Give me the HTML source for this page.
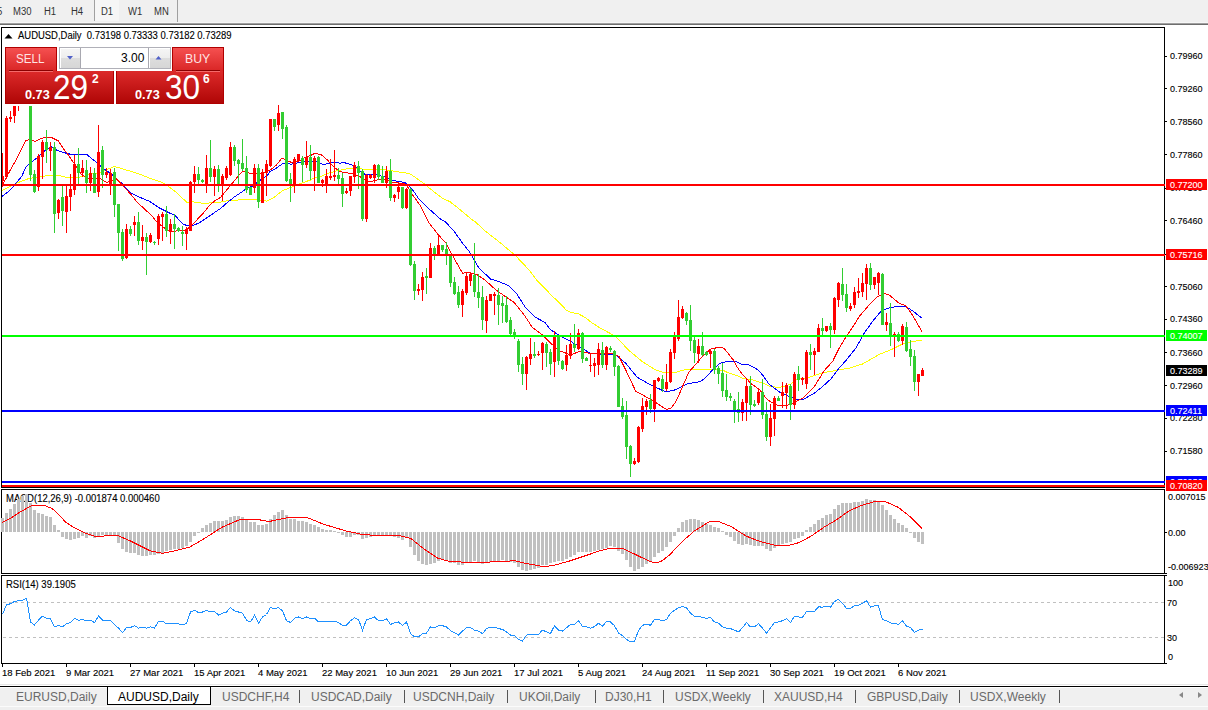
<!DOCTYPE html>
<html><head><meta charset="utf-8"><title>AUDUSD,Daily</title><style>
*{margin:0;padding:0;box-sizing:border-box}
html,body{width:1208px;height:710px;overflow:hidden;background:#fff;font-family:"Liberation Sans", sans-serif;}
.a{position:absolute;white-space:nowrap;line-height:1}
.tb{font-size:10px;color:#333;transform:scaleX(0.95);transform-origin:0 0}
.pl{font-size:9px;color:#000;-webkit-text-stroke:0.12px currentColor}
.tab{font-size:12px;color:#6a6a6a}
.px{font-size:9.5px;color:#000;-webkit-text-stroke:0.12px currentColor;transform:scaleX(0.95);transform-origin:0 0}
</style></head>
<body>
<div class="a" style="left:0;top:0;width:1208px;height:22px;background:#f0f0f0"></div>
<div class="a" style="left:0;top:22px;width:1208px;height:1px;background:#f7f7f7"></div>
<div class="a" style="left:0;top:23px;width:1208px;height:1px;background:#a0a0a0"></div>
<div class="a" style="left:0;top:24px;width:1208px;height:1px;background:#6e6e6e"></div>
<div class="a" style="left:95px;top:0;width:24px;height:21px;background:#f6f6f6"></div>
<div class="a" style="left:94px;top:0;width:1px;height:21px;background:#a0a0a0"></div>
<div class="a" style="left:177px;top:0;width:1px;height:22px;background:#a0a0a0"></div>
<div class="a tb" style="left:-3px;top:6.5px">5</div>
<div class="a tb" style="left:13px;top:6.5px">M30</div>
<div class="a tb" style="left:44px;top:6.5px">H1</div>
<div class="a tb" style="left:71px;top:6.5px">H4</div>
<div class="a tb" style="left:100.5px;top:6.5px">D1</div>
<div class="a tb" style="left:128px;top:6.5px">W1</div>
<div class="a tb" style="left:154px;top:6.5px">MN</div>
<div class="a pl" style="left:6px;top:494px;font-size:10px;transform:scaleX(0.95);transform-origin:0 0">MACD(12,26,9) -0.001874 0.000460</div>
<div class="a pl" style="left:6px;top:580px;font-size:10px;transform:scaleX(0.95);transform-origin:0 0">RSI(14) 39.1905</div>
<svg class="a" style="left:0;top:0" width="1208" height="710" shape-rendering="crispEdges">
<rect x="1.5" y="27.5" width="1163" height="460" fill="none" stroke="#000" stroke-width="1"/>
<rect x="1.5" y="489.5" width="1163" height="84" fill="none" stroke="#000" stroke-width="1"/>
<rect x="1.5" y="575.5" width="1163" height="88" fill="none" stroke="#000" stroke-width="1"/>
<rect x="1165" y="56" width="2" height="1" fill="#000"/>
<rect x="1165" y="88" width="2" height="1" fill="#000"/>
<rect x="1165" y="121" width="2" height="1" fill="#000"/>
<rect x="1165" y="154" width="2" height="1" fill="#000"/>
<rect x="1165" y="188" width="2" height="1" fill="#000"/>
<rect x="1165" y="220" width="2" height="1" fill="#000"/>
<rect x="1165" y="254" width="2" height="1" fill="#000"/>
<rect x="1165" y="286" width="2" height="1" fill="#000"/>
<rect x="1165" y="319" width="2" height="1" fill="#000"/>
<rect x="1165" y="352" width="2" height="1" fill="#000"/>
<rect x="1165" y="385" width="2" height="1" fill="#000"/>
<rect x="1165" y="418" width="2" height="1" fill="#000"/>
<rect x="1165" y="451" width="2" height="1" fill="#000"/>
<rect x="1165" y="532" width="2" height="1" fill="#000"/>
<rect x="1165" y="573" width="2" height="1" fill="#000"/>
<rect x="1165" y="575" width="2" height="1" fill="#000"/>
<rect x="1165" y="663" width="2" height="1" fill="#000"/>
<rect x="2" y="664" width="1" height="3" fill="#000"/>
<rect x="66" y="664" width="1" height="3" fill="#000"/>
<rect x="130" y="664" width="1" height="3" fill="#000"/>
<rect x="194" y="664" width="1" height="3" fill="#000"/>
<rect x="258" y="664" width="1" height="3" fill="#000"/>
<rect x="322" y="664" width="1" height="3" fill="#000"/>
<rect x="386" y="664" width="1" height="3" fill="#000"/>
<rect x="450" y="664" width="1" height="3" fill="#000"/>
<rect x="514" y="664" width="1" height="3" fill="#000"/>
<rect x="578" y="664" width="1" height="3" fill="#000"/>
<rect x="642" y="664" width="1" height="3" fill="#000"/>
<rect x="706" y="664" width="1" height="3" fill="#000"/>
<rect x="770" y="664" width="1" height="3" fill="#000"/>
<rect x="834" y="664" width="1" height="3" fill="#000"/>
<rect x="898" y="664" width="1" height="3" fill="#000"/>
<line x1="2" y1="602.5" x2="1164" y2="602.5" stroke="#c0c0c0" stroke-width="1" stroke-dasharray="3,3" stroke-dashoffset="5"/>
<line x1="2" y1="637.5" x2="1164" y2="637.5" stroke="#c0c0c0" stroke-width="1" stroke-dasharray="3,3" stroke-dashoffset="5"/>
<path d="M1 518h3V532h-3ZM5 513h3V532h-3ZM9 509h3V532h-3ZM13 504h3V532h-3ZM17 499h3V532h-3ZM21 496h3V532h-3ZM25 494h3V532h-3ZM29 503h3V532h-3ZM33 510h3V532h-3ZM37 513h3V532h-3ZM41 514h3V532h-3ZM45 516h3V532h-3ZM49 517h3V532h-3ZM53 525h3V532h-3ZM57 530h3V532h-3ZM61 532h3V537h-3ZM65 532h3V539h-3ZM69 532h3V540h-3ZM73 532h3V539h-3ZM77 532h3V538h-3ZM81 532h3V536h-3ZM85 532h3V538h-3ZM89 532h3V536h-3ZM93 532h3V538h-3ZM97 532h3V536h-3ZM101 532h3V535h-3ZM105 532h3V535h-3ZM109 532h3V535h-3ZM113 532h3V535h-3ZM117 532h3V543h-3ZM121 532h3V549h-3ZM125 532h3V552h-3ZM129 532h3V553h-3ZM133 532h3V553h-3ZM137 532h3V555h-3ZM141 532h3V556h-3ZM145 532h3V556h-3ZM149 532h3V555h-3ZM153 532h3V555h-3ZM157 532h3V554h-3ZM161 532h3V553h-3ZM165 532h3V551h-3ZM169 532h3V550h-3ZM173 532h3V549h-3ZM177 532h3V549h-3ZM181 532h3V548h-3ZM185 532h3V546h-3ZM189 532h3V542h-3ZM193 532h3V536h-3ZM197 532h3v1h-3ZM201 528h3V532h-3ZM205 525h3V532h-3ZM209 523h3V532h-3ZM213 521h3V532h-3ZM217 521h3V532h-3ZM221 521h3V532h-3ZM225 520h3V532h-3ZM229 517h3V532h-3ZM233 516h3V532h-3ZM237 516h3V532h-3ZM241 517h3V532h-3ZM245 520h3V532h-3ZM249 522h3V532h-3ZM253 522h3V532h-3ZM257 525h3V532h-3ZM261 525h3V532h-3ZM265 524h3V532h-3ZM269 519h3V532h-3ZM273 515h3V532h-3ZM277 512h3V532h-3ZM281 510h3V532h-3ZM285 515h3V532h-3ZM289 519h3V532h-3ZM293 519h3V532h-3ZM297 521h3V532h-3ZM301 521h3V532h-3ZM305 522h3V532h-3ZM309 524h3V532h-3ZM313 525h3V532h-3ZM317 527h3V532h-3ZM321 529h3V532h-3ZM325 530h3V532h-3ZM329 530h3V532h-3ZM333 531h3V532h-3ZM337 532h3v1h-3ZM341 532h3V535h-3ZM345 532h3V537h-3ZM349 532h3V537h-3ZM353 532h3V535h-3ZM357 532h3V535h-3ZM361 532h3V539h-3ZM365 532h3V538h-3ZM369 532h3V537h-3ZM373 532h3V536h-3ZM377 532h3V535h-3ZM381 532h3V535h-3ZM385 532h3V535h-3ZM389 532h3V536h-3ZM393 532h3V537h-3ZM397 532h3V538h-3ZM401 532h3V540h-3ZM405 532h3V538h-3ZM409 532h3V547h-3ZM413 532h3V555h-3ZM417 532h3V561h-3ZM421 532h3V564h-3ZM425 532h3V565h-3ZM429 532h3V564h-3ZM433 532h3V563h-3ZM437 532h3V561h-3ZM441 532h3V560h-3ZM445 532h3V561h-3ZM449 532h3V563h-3ZM453 532h3V563h-3ZM457 532h3V565h-3ZM461 532h3V565h-3ZM465 532h3V563h-3ZM469 532h3V562h-3ZM473 532h3V561h-3ZM477 532h3V562h-3ZM481 532h3V564h-3ZM485 532h3V563h-3ZM489 532h3V562h-3ZM493 532h3V561h-3ZM497 532h3V561h-3ZM501 532h3V560h-3ZM505 532h3V561h-3ZM509 532h3V562h-3ZM513 532h3V563h-3ZM517 532h3V567h-3ZM521 532h3V570h-3ZM525 532h3V571h-3ZM529 532h3V570h-3ZM533 532h3V569h-3ZM537 532h3V568h-3ZM541 532h3V565h-3ZM545 532h3V565h-3ZM549 532h3V563h-3ZM553 532h3V562h-3ZM557 532h3V561h-3ZM561 532h3V561h-3ZM565 532h3V559h-3ZM569 532h3V557h-3ZM573 532h3V555h-3ZM577 532h3V552h-3ZM581 532h3V552h-3ZM585 532h3V552h-3ZM589 532h3V552h-3ZM593 532h3V551h-3ZM597 532h3V550h-3ZM601 532h3V549h-3ZM605 532h3V548h-3ZM609 532h3V546h-3ZM613 532h3V547h-3ZM617 532h3V551h-3ZM621 532h3V554h-3ZM625 532h3V560h-3ZM629 532h3V567h-3ZM633 532h3V571h-3ZM637 532h3V569h-3ZM641 532h3V567h-3ZM645 532h3V564h-3ZM649 532h3V562h-3ZM653 532h3V557h-3ZM657 532h3V553h-3ZM661 532h3V551h-3ZM665 532h3V547h-3ZM669 532h3V542h-3ZM673 532h3V536h-3ZM677 528h3V532h-3ZM681 522h3V532h-3ZM685 520h3V532h-3ZM689 519h3V532h-3ZM693 519h3V532h-3ZM697 520h3V532h-3ZM701 522h3V532h-3ZM705 524h3V532h-3ZM709 525h3V532h-3ZM713 527h3V532h-3ZM717 528h3V532h-3ZM721 531h3V532h-3ZM725 532h3V535h-3ZM729 532h3V537h-3ZM733 532h3V541h-3ZM737 532h3V544h-3ZM741 532h3V545h-3ZM745 532h3V544h-3ZM749 532h3V545h-3ZM753 532h3V546h-3ZM757 532h3V546h-3ZM761 532h3V546h-3ZM765 532h3V549h-3ZM769 532h3V551h-3ZM773 532h3V548h-3ZM777 532h3V546h-3ZM781 532h3V544h-3ZM785 532h3V543h-3ZM789 532h3V542h-3ZM793 532h3V539h-3ZM797 532h3V538h-3ZM801 532h3V536h-3ZM805 530h3V532h-3ZM809 527h3V532h-3ZM813 524h3V532h-3ZM817 520h3V532h-3ZM821 518h3V532h-3ZM825 515h3V532h-3ZM829 514h3V532h-3ZM833 509h3V532h-3ZM837 505h3V532h-3ZM841 503h3V532h-3ZM845 503h3V532h-3ZM849 503h3V532h-3ZM853 502h3V532h-3ZM857 502h3V532h-3ZM861 501h3V532h-3ZM865 499h3V532h-3ZM869 500h3V532h-3ZM873 500h3V532h-3ZM877 501h3V532h-3ZM881 505h3V532h-3ZM885 510h3V532h-3ZM889 515h3V532h-3ZM893 519h3V532h-3ZM897 523h3V532h-3ZM901 525h3V532h-3ZM905 528h3V532h-3ZM909 532h3v1h-3ZM913 532h3V538h-3ZM917 532h3V542h-3ZM921 532h3V544h-3Z" fill="#c0c0c0"/>
<polyline points="1.9,522.5 9.9,518.6 18.6,513.0 26.1,508.6 32.3,505.5 44.7,505.5 52.2,508.6 58.4,514.2 65.8,522.3 74.5,527.9 84.4,532.8 94.4,536.2 103.1,536.2 108.0,535.3 118.0,535.7 122.9,537.8 130.4,540.9 140.3,545.9 150.0,550.8 162.4,553.3 174.8,550.8 189.7,547.1 204.6,538.4 222.0,527.2 239.4,519.8 259.3,519.8 269.2,521.5 286.6,517.8 306.4,517.3 323.8,524.3 346.2,531.0 363.6,534.7 378.5,535.4 398.3,535.4 410.7,538.4 423.2,548.4 438.0,558.3 450.0,561.5 460.9,562.0 480.8,562.8 495.7,561.5 515.5,560.8 525.5,563.3 542.8,566.5 552.8,565.7 570.2,560.8 585.1,555.8 600.0,550.8 609.9,548.4 622.3,548.4 634.7,554.1 644.7,559.0 650.0,561.5 654.6,562.5 658.5,562.2 662.0,560.8 669.5,555.1 676.9,547.1 684.4,539.7 694.3,531.0 709.2,521.8 719.2,521.8 731.6,526.8 746.0,536.0 751.9,538.4 761.9,542.1 774.3,545.1 786.7,545.9 799.1,542.6 811.5,535.9 824.0,527.2 836.4,519.8 848.8,511.1 861.2,505.4 876.1,501.2 886.0,501.9 898.4,507.4 910.9,517.3 922.0,528.5" fill="none" stroke="#ff0000" stroke-width="1" shape-rendering="crispEdges"/>
<polyline points="2.5,614.5 6.5,604.6 10.5,603.8 14.5,601.3 18.5,600.8 22.5,600.1 26.5,598.3 30.5,621.9 34.5,624.9 38.5,620.2 42.5,616.2 46.5,618.2 50.5,618.7 54.5,626.9 58.5,625.2 62.5,626.9 66.5,623.7 70.5,622.7 74.5,618.2 78.5,620.2 82.5,619.5 86.5,620.7 90.5,620.2 94.5,622.7 98.5,616.2 102.5,620.2 106.5,620.2 110.5,620.2 114.5,624.4 118.5,628.1 122.5,632.6 126.5,627.7 130.5,627.4 134.5,625.7 138.5,628.1 142.5,627.7 146.5,628.1 150.5,626.9 154.5,628.1 158.5,621.4 162.5,621.2 166.5,623.9 170.5,623.2 174.5,623.9 178.5,623.9 182.5,624.4 186.5,623.7 190.5,612.0 194.5,610.3 198.5,612.5 202.5,612.0 206.5,610.3 210.5,612.0 214.5,611.5 218.5,615.0 222.5,613.2 226.5,612.0 230.5,607.5 234.5,610.8 238.5,612.0 242.5,613.2 246.5,620.2 250.5,621.9 254.5,615.2 258.5,623.2 262.5,617.0 266.5,614.5 270.5,607.5 274.5,608.8 278.5,607.5 282.5,610.8 286.5,620.7 290.5,622.4 294.5,618.2 298.5,617.0 302.5,618.7 306.5,617.0 310.5,618.7 314.5,618.2 318.5,621.9 322.5,621.9 326.5,621.2 330.5,621.2 334.5,621.2 338.5,622.7 342.5,625.2 346.5,625.2 350.5,620.7 354.5,617.7 358.5,619.5 362.5,630.1 366.5,619.5 370.5,618.7 374.5,617.0 378.5,620.7 382.5,620.7 386.5,618.7 390.5,624.4 394.5,622.7 398.5,621.9 402.5,625.7 406.5,621.9 410.5,633.6 414.5,636.8 418.5,636.8 422.5,633.6 426.5,633.1 430.5,626.9 434.5,627.7 438.5,625.7 442.5,625.7 446.5,626.9 450.5,630.6 454.5,632.6 458.5,635.1 462.5,631.1 466.5,627.7 470.5,627.7 474.5,630.1 478.5,631.1 482.5,633.6 486.5,628.6 490.5,627.2 494.5,627.2 498.5,628.6 502.5,629.4 506.5,631.9 510.5,635.1 514.5,635.6 518.5,639.3 522.5,641.1 526.5,635.1 530.5,634.4 534.5,634.4 538.5,634.4 542.5,630.1 546.5,631.9 550.5,633.6 554.5,625.7 558.5,630.1 562.5,631.1 566.5,627.7 570.5,624.4 574.5,624.4 578.5,620.7 582.5,626.4 586.5,626.9 590.5,628.1 594.5,626.6 598.5,623.2 602.5,626.2 606.5,621.4 610.5,621.9 614.5,625.7 618.5,633.1 622.5,635.6 626.5,639.3 630.5,641.8 634.5,641.1 638.5,630.6 642.5,625.2 646.5,624.4 650.5,625.2 654.5,619.5 658.5,619.5 662.5,620.7 666.5,619.5 670.5,613.2 674.5,610.3 678.5,607.8 682.5,606.3 686.5,607.8 690.5,613.2 694.5,616.2 698.5,616.2 702.5,617.7 706.5,618.2 710.5,617.7 714.5,621.9 718.5,623.2 722.5,626.9 726.5,628.1 730.5,628.6 734.5,630.1 738.5,631.9 742.5,627.7 746.5,622.7 750.5,626.9 754.5,626.9 758.5,623.7 762.5,628.1 766.5,633.1 770.5,627.7 774.5,622.7 778.5,621.9 782.5,620.7 786.5,618.7 790.5,622.7 794.5,616.2 798.5,617.0 802.5,617.2 806.5,611.6 810.5,611.3 814.5,611.3 818.5,606.8 822.5,607.2 826.5,606.3 830.5,607.1 834.5,601.5 838.5,599.4 842.5,603.3 846.5,608.3 850.5,608.3 854.5,605.8 858.5,605.4 862.5,603.3 866.5,600.6 870.5,607.1 874.5,605.8 878.5,605.9 882.5,619.7 886.5,620.5 890.5,623.0 894.5,623.2 898.5,624.3 902.5,621.0 906.5,626.0 910.5,627.7 914.5,632.3 918.5,630.3 922.5,629.0" fill="none" stroke="#1e90ff" stroke-width="1" shape-rendering="crispEdges"/>
<polyline points="2.0,190.5 5.0,189.0 16.6,183.2 24.9,179.9 29.9,178.2 38.2,177.4 46.6,175.7 51.5,175.3 59.9,175.7 66.5,177.4 73.2,177.8 83.1,176.6 91.4,174.1 99.8,173.2 106.4,169.8 114.7,166.5 123.0,169.0 131.3,171.5 141.3,174.8 149.6,178.1 159.6,181.5 166.3,184.8 176.2,192.4 186.7,202.2 192.4,201.7 200.6,203.0 208.7,203.0 217.9,202.6 229.5,200.3 241.1,199.9 257.3,199.9 266.6,201.1 273.6,197.6 282.8,190.6 295.8,185.5 300.0,183.6 310.8,179.9 314.1,177.8 321.6,176.2 328.3,173.3 336.6,170.8 343.2,169.5 349.9,168.3 358.2,168.7 368.2,169.5 383.1,169.5 391.4,170.8 396.0,171.5 408.3,173.3 412.5,175.4 424.1,183.7 435.7,193.3 443.2,198.7 449.9,201.6 458.2,208.2 470.7,218.6 475.8,222.3 485.8,231.5 500.7,243.1 515.7,255.8 529.0,269.9 536.6,280.0 544.1,287.5 551.5,295.4 558.2,301.6 566.5,310.3 570.7,312.4 579.0,314.1 585.6,317.8 591.4,322.4 599.8,327.8 604.1,330.0 615.7,336.6 629.0,350.5 642.3,361.6 655.6,369.9 665.6,373.0 675.5,372.4 685.5,369.5 712.5,369.6 723.3,370.4 727.4,372.5 737.4,375.8 743.2,378.7 751.5,379.5 763.2,383.3 769.8,386.6 779.0,387.4 784.0,386.6 790.6,384.1 793.9,381.6 796.4,379.5 809.3,377.4 820.9,373.2 834.2,370.7 849.2,368.2 862.5,364.0 879.1,354.5 892.4,349.1 904.1,343.2 912.4,341.5 922.0,340.2" fill="none" stroke="#ffff00" stroke-width="1" shape-rendering="crispEdges"/>
<polyline points="2.0,196.5 8.0,192.0 12.5,187.4 16.6,182.4 21.6,176.6 25.8,167.4 29.1,164.1 33.3,160.8 36.6,158.3 40.7,154.1 45.7,150.0 51.5,147.0 56.5,150.0 63.2,152.4 68.2,153.7 73.2,154.9 87.3,154.9 91.4,158.3 96.4,162.4 103.1,168.2 114.7,176.5 121.4,183.1 131.3,193.1 139.7,197.3 149.6,201.4 159.6,208.1 169.6,213.1 174.6,215.0 182.9,224.1 187.9,225.8 194.5,224.9 200.0,222.4 211.0,215.0 220.3,208.6 228.4,201.7 234.2,197.0 241.1,192.4 248.1,187.7 252.7,186.0 258.5,181.4 264.8,177.0 267.8,175.0 269.8,171.6 274.8,169.1 279.8,165.7 283.1,163.2 288.1,163.2 290.6,164.5 293.1,163.7 300.0,162.5 308.3,161.4 316.6,161.8 320.0,163.7 324.9,164.5 328.3,163.3 333.3,162.3 336.6,162.4 339.9,163.3 343.2,162.4 346.6,163.3 351.5,164.9 356.5,167.4 359.9,170.8 364.8,174.1 370.7,174.9 374.8,174.1 379.8,175.7 386.5,177.4 391.4,179.9 396.0,181.0 404.2,182.3 406.6,183.7 409.1,186.2 413.3,190.8 418.3,198.2 427.4,207.4 439.9,218.6 445.9,222.3 454.2,231.5 462.5,243.1 469.2,251.5 479.1,268.3 490.8,279.1 500.0,282.1 508.3,285.4 516.6,293.7 524.9,306.6 534.9,317.0 544.9,322.4 549.9,329.0 554.0,332.0 558.2,334.9 564.8,338.6 570.6,341.4 582.2,348.1 587.4,351.6 591.4,353.5 599.1,354.1 615.7,354.9 625.7,363.2 637.3,377.4 650.6,384.8 665.8,392.0 675.5,389.8 687.4,383.9 700.0,381.6 705.0,378.3 713.3,369.1 720.0,363.3 728.3,361.2 734.9,361.2 741.6,364.2 748.2,364.6 753.2,367.1 758.2,370.0 763.2,375.8 769.0,384.1 773.2,387.4 780.6,392.8 787.3,395.7 792.3,397.4 796.4,399.1 802.6,399.8 814.3,393.2 822.6,386.5 830.9,379.0 837.6,369.9 845.9,360.5 855.9,348.1 864.2,333.1 872.5,321.5 880.8,311.5 887.4,308.2 899.1,306.2 905.7,306.5 912.4,310.7 922.0,318.2" fill="none" stroke="#0000ff" stroke-width="1" shape-rendering="crispEdges"/>
<polyline points="2.0,186.5 5.0,180.0 10.8,169.1 16.6,159.1 21.6,149.1 25.8,140.8 29.9,139.1 34.9,141.6 41.6,138.3 46.6,137.1 51.5,137.5 58.2,140.8 63.2,148.3 68.2,154.9 74.0,163.2 78.1,169.8 81.5,174.8 88.1,178.1 94.8,179.0 99.8,178.1 106.4,182.3 109.7,181.5 116.4,179.0 121.4,184.0 129.7,193.1 138.0,203.1 146.3,210.6 153.0,217.2 156.3,221.6 164.6,228.2 169.6,231.6 178.7,230.7 186.2,229.9 191.2,225.8 200.0,216.6 201.7,215.0 205.0,211.0 209.8,205.1 214.5,201.0 220.3,197.6 225.0,192.0 229.5,186.6 238.8,175.5 243.2,171.1 246.6,171.6 249.9,173.6 253.2,173.2 259.9,173.2 266.5,172.0 271.5,169.1 276.5,164.9 281.5,158.7 283.1,158.3 285.6,159.9 290.6,162.0 294.8,162.0 300.0,160.6 305.0,157.5 310.0,155.8 315.0,153.3 321.6,155.0 327.4,160.0 333.3,166.6 339.9,171.6 346.6,172.8 353.2,174.1 359.9,176.6 366.5,180.7 369.8,181.6 374.8,180.7 379.8,179.1 386.5,179.1 391.4,182.4 396.0,182.8 406.0,184.1 412.6,194.9 420.9,206.5 429.3,223.2 437.6,234.0 445.9,243.1 450.9,252.5 462.5,273.2 469.2,272.4 477.5,274.9 485.8,280.7 495.8,289.9 504.1,295.7 514.0,302.3 524.0,314.8 532.3,327.3 542.3,334.8 550.6,343.1 558.9,350.6 570.8,354.9 579.1,351.6 589.1,353.2 599.1,354.1 612.4,353.2 619.0,356.6 625.7,369.9 635.9,391.6 644.2,395.8 656.5,402.9 663.2,407.5 666.5,409.5 670.7,408.3 674.8,403.3 678.6,395.8 682.5,386.6 689.1,371.7 692.4,368.1 702.4,356.5 710.7,349.0 719.0,347.3 724.0,348.2 733.3,360.0 737.4,367.5 741.6,373.3 746.6,378.7 751.5,384.1 756.5,387.4 759.9,389.9 764.8,396.6 769.0,400.7 774.8,404.1 777.3,405.3 783.1,405.3 789.8,404.9 795.6,401.6 802.6,398.2 814.3,386.5 824.3,370.5 832.6,361.5 839.2,348.1 845.9,337.0 854.2,324.8 859.2,316.5 869.2,304.9 877.5,296.6 884.1,293.6 889.1,294.9 899.1,303.2 905.7,305.7 912.4,314.9 919.0,326.5 922.0,331.5" fill="none" stroke="#ff0000" stroke-width="1" shape-rendering="crispEdges"/>
<path d="M26 86h1V105h-1ZM25 90h3V101h-3ZM30 95h1V181h-1ZM29 100h3V175h-3ZM34 170h1V193h-1ZM33 174h3V192h-3ZM46 130h1V163h-1ZM45 142h3V150h-3ZM54 142h1V233h-1ZM53 147h3V214h-3ZM62 186h1V226h-1ZM61 197h3V211h-3ZM78 148h1V185h-1ZM77 164h3V173h-3ZM86 160h1V193h-1ZM85 170h3V183h-3ZM94 168h1V193h-1ZM93 173h3V193h-3ZM102 146h1V188h-1ZM101 150h3V175h-3ZM114 168h1V217h-1ZM113 172h3V205h-3ZM118 204h1V251h-1ZM117 204h3V233h-3ZM122 229h1V261h-1ZM121 232h3V259h-3ZM130 226h1V236h-1ZM129 229h3V234h-3ZM138 212h1V245h-1ZM137 222h3V241h-3ZM146 233h1V275h-1ZM145 237h3V242h-3ZM154 241h1V245h-1ZM153 242h3V243h-3ZM166 206h1V237h-1ZM165 214h3V231h-3ZM174 214h1V249h-1ZM173 224h3V229h-3ZM178 227h1V232h-1ZM177 228h3V231h-3ZM182 226h1V246h-1ZM181 232h3V234h-3ZM198 167h1V185h-1ZM197 174h3V180h-3ZM202 179h1V183h-1ZM201 180h3V182h-3ZM210 140h1V182h-1ZM209 168h3V177h-3ZM218 165h1V192h-1ZM217 169h3V185h-3ZM234 145h1V166h-1ZM233 147h3V161h-3ZM238 159h1V185h-1ZM237 160h3V164h-3ZM242 139h1V171h-1ZM241 163h3V169h-3ZM246 156h1V193h-1ZM245 168h3V190h-3ZM250 187h1V195h-1ZM249 187h3V195h-3ZM258 164h1V208h-1ZM257 168h3V202h-3ZM274 119h1V131h-1ZM273 119h3V127h-3ZM282 112h1V139h-1ZM281 112h3V129h-3ZM286 125h1V182h-1ZM285 127h3V181h-3ZM290 173h1V202h-1ZM289 179h3V186h-3ZM302 156h1V182h-1ZM301 158h3V165h-3ZM310 145h1V180h-1ZM309 157h3V171h-3ZM318 156h1V183h-1ZM317 157h3V183h-3ZM338 168h1V185h-1ZM337 175h3V179h-3ZM342 173h1V207h-1ZM341 178h3V194h-3ZM358 161h1V189h-1ZM357 166h3V173h-3ZM362 169h1V221h-1ZM361 171h3V219h-3ZM378 164h1V180h-1ZM377 165h3V177h-3ZM382 166h1V183h-1ZM381 176h3V183h-3ZM390 159h1V201h-1ZM389 171h3V198h-3ZM402 187h1V209h-1ZM401 187h3V208h-3ZM410 188h1V266h-1ZM409 189h3V265h-3ZM414 261h1V300h-1ZM413 264h3V291h-3ZM426 268h1V294h-1ZM425 276h3V278h-3ZM434 246h1V260h-1ZM433 248h3V255h-3ZM442 245h1V252h-1ZM441 245h3V250h-3ZM446 242h1V265h-1ZM445 249h3V255h-3ZM450 254h1V287h-1ZM449 255h3V283h-3ZM454 277h1V295h-1ZM453 282h3V294h-3ZM458 286h1V308h-1ZM457 292h3V305h-3ZM474 243h1V297h-1ZM473 275h3V292h-3ZM478 274h1V308h-1ZM477 292h3V298h-3ZM482 286h1V330h-1ZM481 297h3V320h-3ZM498 288h1V325h-1ZM497 295h3V305h-3ZM502 296h1V323h-1ZM501 303h3V306h-3ZM506 296h1V323h-1ZM505 305h3V322h-3ZM510 317h1V337h-1ZM509 320h3V334h-3ZM514 329h1V339h-1ZM513 332h3V337h-3ZM518 339h1V372h-1ZM517 341h3V365h-3ZM522 357h1V385h-1ZM521 364h3V374h-3ZM534 342h1V358h-1ZM533 354h3V356h-3ZM546 342h1V367h-1ZM545 344h3V353h-3ZM550 349h1V375h-1ZM549 352h3V364h-3ZM558 335h1V365h-1ZM557 336h3V361h-3ZM562 360h1V370h-1ZM561 361h3V369h-3ZM574 324h1V352h-1ZM573 344h3V348h-3ZM582 332h1V363h-1ZM581 333h3V359h-3ZM586 357h1V361h-1ZM585 358h3V361h-3ZM602 342h1V368h-1ZM601 350h3V365h-3ZM610 346h1V352h-1ZM609 348h3V350h-3ZM614 350h1V376h-1ZM613 351h3V367h-3ZM618 365h1V407h-1ZM617 366h3V407h-3ZM622 398h1V419h-1ZM621 406h3V417h-3ZM626 401h1V459h-1ZM625 415h3V447h-3ZM630 445h1V477h-1ZM629 446h3V464h-3ZM650 394h1V413h-1ZM649 400h3V409h-3ZM662 375h1V392h-1ZM661 379h3V389h-3ZM686 312h1V325h-1ZM685 313h3V321h-3ZM690 305h1V351h-1ZM689 320h3V341h-3ZM694 335h1V363h-1ZM693 340h3V353h-3ZM702 332h1V356h-1ZM701 346h3V355h-3ZM706 351h1V356h-1ZM705 352h3V355h-3ZM714 349h1V374h-1ZM713 351h3V370h-3ZM718 366h1V384h-1ZM717 368h3V374h-3ZM722 363h1V397h-1ZM721 373h3V391h-3ZM726 374h1V401h-1ZM725 390h3V397h-3ZM730 393h1V401h-1ZM729 396h3V398h-3ZM734 399h1V423h-1ZM733 401h3V411h-3ZM738 392h1V422h-1ZM737 409h3V413h-3ZM750 376h1V415h-1ZM749 386h3V405h-3ZM754 400h1V407h-1ZM753 404h3V406h-3ZM762 379h1V419h-1ZM761 392h3V415h-3ZM766 402h1V441h-1ZM765 414h3V437h-3ZM778 396h1V401h-1ZM777 398h3V401h-3ZM790 384h1V420h-1ZM789 386h3V405h-3ZM798 366h1V391h-1ZM797 374h3V380h-3ZM810 344h1V370h-1ZM809 352h3V355h-3ZM822 318h1V336h-1ZM821 328h3V331h-3ZM830 323h1V348h-1ZM829 326h3V330h-3ZM842 268h1V301h-1ZM841 284h3V295h-3ZM846 284h1V312h-1ZM845 294h3V308h-3ZM870 263h1V290h-1ZM869 268h3V285h-3ZM882 273h1V325h-1ZM881 274h3V325h-3ZM890 303h1V346h-1ZM889 323h3V337h-3ZM898 332h1V342h-1ZM897 334h3V341h-3ZM906 322h1V352h-1ZM905 327h3V351h-3ZM910 340h1V366h-1ZM909 349h3V357h-3ZM914 350h1V391h-1ZM913 356h3V382h-3Z" fill="#32cd32"/>
<path d="M2 153h1V185h-1ZM2 176h2V181h-2ZM6 116h1V179h-1ZM5 118h3V177h-3ZM10 111h1V122h-1ZM9 117h3V119h-3ZM14 98h1V123h-1ZM13 100h3V116h-3ZM18 90h1V111h-1ZM17 95h3V103h-3ZM22 85h1V103h-1ZM21 88h3V101h-3ZM38 154h1V191h-1ZM37 156h3V187h-3ZM42 140h1V179h-1ZM41 142h3V157h-3ZM50 142h1V171h-1ZM49 147h3V151h-3ZM58 199h1V219h-1ZM57 200h3V213h-3ZM66 186h1V233h-1ZM65 196h3V212h-3ZM70 174h1V211h-1ZM69 189h3V197h-3ZM74 155h1V195h-1ZM73 164h3V190h-3ZM82 160h1V177h-1ZM81 168h3V173h-3ZM90 167h1V191h-1ZM89 173h3V183h-3ZM98 125h1V197h-1ZM97 152h3V192h-3ZM106 168h1V178h-1ZM105 172h3V175h-3ZM110 169h1V195h-1ZM109 173h3V185h-3ZM126 224h1V259h-1ZM125 229h3V258h-3ZM134 216h1V236h-1ZM133 222h3V225h-3ZM142 225h1V250h-1ZM141 237h3V241h-3ZM150 233h1V243h-1ZM149 235h3V242h-3ZM158 214h1V245h-1ZM157 216h3V239h-3ZM162 212h1V241h-1ZM161 214h3V217h-3ZM170 219h1V244h-1ZM169 224h3V231h-3ZM186 227h1V250h-1ZM185 229h3V234h-3ZM190 181h1V231h-1ZM189 182h3V231h-3ZM194 166h1V193h-1ZM193 174h3V182h-3ZM206 155h1V193h-1ZM205 168h3V185h-3ZM214 166h1V196h-1ZM213 169h3V177h-3ZM222 174h1V201h-1ZM221 176h3V185h-3ZM226 166h1V180h-1ZM225 168h3V178h-3ZM230 142h1V176h-1ZM229 147h3V175h-3ZM254 164h1V193h-1ZM253 168h3V188h-3ZM262 169h1V203h-1ZM261 172h3V203h-3ZM266 160h1V196h-1ZM265 164h3V173h-3ZM270 119h1V167h-1ZM269 119h3V166h-3ZM278 105h1V131h-1ZM277 113h3V125h-3ZM294 157h1V193h-1ZM293 159h3V186h-3ZM298 154h1V162h-1ZM297 154h3V161h-3ZM306 141h1V168h-1ZM305 157h3V165h-3ZM314 156h1V191h-1ZM313 158h3V171h-3ZM322 179h1V187h-1ZM321 180h3V183h-3ZM326 169h1V193h-1ZM325 176h3V185h-3ZM330 159h1V180h-1ZM329 176h3V178h-3ZM334 150h1V181h-1ZM333 175h3V177h-3ZM346 188h1V194h-1ZM345 191h3V193h-3ZM350 176h1V196h-1ZM349 176h3V191h-3ZM354 162h1V183h-1ZM353 165h3V177h-3ZM366 174h1V222h-1ZM365 175h3V219h-3ZM370 174h1V179h-1ZM369 175h3V178h-3ZM374 164h1V183h-1ZM373 165h3V178h-3ZM386 166h1V188h-1ZM385 171h3V183h-3ZM394 194h1V202h-1ZM393 195h3V198h-3ZM398 182h1V199h-1ZM397 187h3V192h-3ZM406 188h1V209h-1ZM405 189h3V208h-3ZM418 284h1V295h-1ZM417 289h3V291h-3ZM422 272h1V301h-1ZM421 277h3V290h-3ZM430 243h1V278h-1ZM429 248h3V278h-3ZM438 235h1V255h-1ZM437 245h3V255h-3ZM462 289h1V317h-1ZM461 291h3V305h-3ZM466 273h1V295h-1ZM465 276h3V293h-3ZM470 272h1V286h-1ZM469 274h3V281h-3ZM486 296h1V333h-1ZM485 300h3V321h-3ZM490 294h1V301h-1ZM489 294h3V301h-3ZM494 292h1V315h-1ZM493 294h3V296h-3ZM526 356h1V390h-1ZM525 357h3V374h-3ZM530 338h1V365h-1ZM529 354h3V359h-3ZM538 351h1V356h-1ZM537 354h3V355h-3ZM542 342h1V370h-1ZM541 343h3V353h-3ZM554 331h1V377h-1ZM553 337h3V362h-3ZM566 345h1V371h-1ZM565 355h3V365h-3ZM570 333h1V359h-1ZM569 344h3V356h-3ZM578 329h1V350h-1ZM577 333h3V349h-3ZM590 353h1V372h-1ZM589 365h3V366h-3ZM594 358h1V377h-1ZM593 363h3V366h-3ZM598 343h1V375h-1ZM597 349h3V365h-3ZM606 346h1V370h-1ZM605 347h3V365h-3ZM634 458h1V465h-1ZM633 461h3V464h-3ZM638 426h1V463h-1ZM637 427h3V462h-3ZM642 398h1V432h-1ZM641 406h3V429h-3ZM646 399h1V415h-1ZM645 401h3V407h-3ZM654 380h1V422h-1ZM653 380h3V409h-3ZM658 377h1V382h-1ZM657 378h3V381h-3ZM666 364h1V391h-1ZM665 382h3V389h-3ZM670 349h1V383h-1ZM669 352h3V382h-3ZM674 332h1V359h-1ZM673 336h3V353h-3ZM678 300h1V341h-1ZM677 317h3V339h-3ZM682 306h1V319h-1ZM681 309h3V318h-3ZM698 339h1V363h-1ZM697 346h3V354h-3ZM710 349h1V368h-1ZM709 351h3V354h-3ZM742 399h1V421h-1ZM741 402h3V413h-3ZM746 378h1V421h-1ZM745 386h3V403h-3ZM758 388h1V405h-1ZM757 392h3V403h-3ZM770 404h1V446h-1ZM769 418h3V437h-3ZM774 396h1V436h-1ZM773 398h3V419h-3ZM782 382h1V408h-1ZM781 392h3V396h-3ZM786 383h1V409h-1ZM785 385h3V393h-3ZM794 372h1V409h-1ZM793 374h3V405h-3ZM802 377h1V385h-1ZM801 378h3V380h-3ZM806 350h1V389h-1ZM805 352h3V384h-3ZM814 348h1V375h-1ZM813 351h3V355h-3ZM818 324h1V352h-1ZM817 328h3V352h-3ZM826 326h1V332h-1ZM825 326h3V331h-3ZM834 297h1V334h-1ZM833 298h3V330h-3ZM838 282h1V307h-1ZM837 283h3V300h-3ZM850 303h1V311h-1ZM849 306h3V309h-3ZM854 287h1V308h-1ZM853 292h3V305h-3ZM858 278h1V298h-1ZM857 291h3V293h-3ZM862 273h1V297h-1ZM861 283h3V292h-3ZM866 264h1V300h-1ZM865 268h3V284h-3ZM874 277h1V289h-1ZM873 277h3V285h-3ZM878 272h1V295h-1ZM877 273h3V283h-3ZM886 313h1V331h-1ZM885 322h3V325h-3ZM894 332h1V357h-1ZM893 334h3V337h-3ZM902 324h1V345h-1ZM901 326h3V341h-3ZM918 374h1V396h-1ZM917 374h3V382h-3ZM922 368h1V376h-1ZM921 370h3V376h-3Z" fill="#ff0000"/>
<rect x="2" y="184" width="1163" height="2" fill="#ff0000"/>
<rect x="2" y="254" width="1163" height="2" fill="#ff0000"/>
<rect x="2" y="335" width="1163" height="2" fill="#00ff00"/>
<rect x="2" y="410" width="1163" height="2" fill="#0000ff"/>
<rect x="2" y="481" width="1163" height="2" fill="#0000ff"/>
<rect x="2" y="485" width="1163" height="2" fill="#ff0000"/>
</svg>
<div class="a px" style="left:1170px;top:50.8px">0.79960</div>
<div class="a px" style="left:1170px;top:83.5px">0.79260</div>
<div class="a px" style="left:1170px;top:116.6px">0.78560</div>
<div class="a px" style="left:1170px;top:149.7px">0.77860</div>
<div class="a px" style="left:1170px;top:182.8px">0.77160</div>
<div class="a px" style="left:1170px;top:215.6px">0.76460</div>
<div class="a px" style="left:1170px;top:248.7px">0.75760</div>
<div class="a px" style="left:1170px;top:281.7px">0.75060</div>
<div class="a px" style="left:1170px;top:314.4px">0.74360</div>
<div class="a px" style="left:1170px;top:347.5px">0.73660</div>
<div class="a px" style="left:1170px;top:380.5px">0.72960</div>
<div class="a px" style="left:1170px;top:413.4px">0.72280</div>
<div class="a px" style="left:1170px;top:446.3px">0.71580</div>
<div class="a" style="left:1166px;top:179px;width:41px;height:11px;background:#ff0000"></div><div class="a px" style="left:1170px;top:179.7px;color:#fff">0.77200</div>
<div class="a" style="left:1166px;top:249px;width:41px;height:11px;background:#ff0000"></div><div class="a px" style="left:1170px;top:249.7px;color:#fff">0.75716</div>
<div class="a" style="left:1166px;top:330px;width:41px;height:11px;background:#00ff00"></div><div class="a px" style="left:1170px;top:330.7px;color:#fff">0.74007</div>
<div class="a" style="left:1166px;top:365px;width:41px;height:11px;background:#000000"></div><div class="a px" style="left:1170px;top:365.7px;color:#fff">0.73289</div>
<div class="a" style="left:1166px;top:405px;width:41px;height:11px;background:#0000ff"></div><div class="a px" style="left:1170px;top:405.7px;color:#fff">0.72411</div>
<div class="a" style="left:1166px;top:476px;width:41px;height:11px;background:#0000ff"></div><div class="a px" style="left:1170px;top:476.7px;color:#fff">0.70936</div>
<div class="a" style="left:1166px;top:480px;width:41px;height:11px;background:#ff0000"></div><div class="a px" style="left:1170px;top:480.7px;color:#fff">0.70820</div>
<div class="a px" style="left:1168px;top:491.7px">0.007015</div>
<div class="a px" style="left:1168px;top:527.7px">0.00</div>
<div class="a px" style="left:1168px;top:562.0px">-0.006923</div>
<div class="a px" style="left:1168px;top:577.7px">100</div>
<div class="a px" style="left:1167px;top:597.7px">70</div>
<div class="a px" style="left:1167px;top:632.7px">30</div>
<div class="a px" style="left:1168px;top:651.7px">0</div>
<svg class="a" style="left:0;top:0" width="20" height="45"><polygon points="4.5,38.5 12.5,38.5 8.5,34" fill="#000"/></svg>
<div class="a pl" style="left:18px;top:30.5px;font-size:10px;transform:scaleX(0.946);transform-origin:0 0">AUDUSD,Daily&nbsp; 0.73198 0.73333 0.73182 0.73289</div>
<div class="a pl" style="left:2px;top:667.5px;font-size:9.5px">18 Feb 2021</div>
<div class="a pl" style="left:66px;top:667.5px;font-size:9.5px">9 Mar 2021</div>
<div class="a pl" style="left:130px;top:667.5px;font-size:9.5px">27 Mar 2021</div>
<div class="a pl" style="left:194px;top:667.5px;font-size:9.5px">15 Apr 2021</div>
<div class="a pl" style="left:258px;top:667.5px;font-size:9.5px">4 May 2021</div>
<div class="a pl" style="left:322px;top:667.5px;font-size:9.5px">22 May 2021</div>
<div class="a pl" style="left:386px;top:667.5px;font-size:9.5px">10 Jun 2021</div>
<div class="a pl" style="left:450px;top:667.5px;font-size:9.5px">29 Jun 2021</div>
<div class="a pl" style="left:514px;top:667.5px;font-size:9.5px">17 Jul 2021</div>
<div class="a pl" style="left:578px;top:667.5px;font-size:9.5px">5 Aug 2021</div>
<div class="a pl" style="left:642px;top:667.5px;font-size:9.5px">24 Aug 2021</div>
<div class="a pl" style="left:706px;top:667.5px;font-size:9.5px">11 Sep 2021</div>
<div class="a pl" style="left:770px;top:667.5px;font-size:9.5px">30 Sep 2021</div>
<div class="a pl" style="left:834px;top:667.5px;font-size:9.5px">19 Oct 2021</div>
<div class="a pl" style="left:898px;top:667.5px;font-size:9.5px">6 Nov 2021</div>
<div class="a" style="left:0;top:684px;width:1208px;height:1px;background:#e6e6e6"></div>
<div class="a" style="left:0;top:686px;width:1208px;height:1px;background:#000"></div>
<div class="a" style="left:0;top:688px;width:1208px;height:18px;background:#f0f0f0"></div>
<div class="a" style="left:0;top:706px;width:1208px;height:1px;background:#fbfbfb"></div>
<div class="a" style="left:0;top:707px;width:1208px;height:3px;background:#efefef"></div>
<div class="a" style="left:107px;top:686px;width:104px;height:19px;background:#fff;border:1px solid #000;border-top:1px solid #000"></div>
<div class="a tab" style="left:16px;top:691px">EURUSD,Daily</div>
<div class="a tab" style="left:222px;top:691px">USDCHF,H4</div>
<div class="a tab" style="left:311px;top:691px">USDCAD,Daily</div>
<div class="a tab" style="left:413px;top:691px">USDCNH,Daily</div>
<div class="a tab" style="left:519px;top:691px">UKOil,Daily</div>
<div class="a tab" style="left:605px;top:691px">DJ30,H1</div>
<div class="a tab" style="left:675px;top:691px">USDX,Weekly</div>
<div class="a tab" style="left:774px;top:691px">XAUUSD,H4</div>
<div class="a tab" style="left:867px;top:691px">GBPUSD,Daily</div>
<div class="a tab" style="left:970px;top:691px">USDX,Weekly</div>
<div class="a tab" style="left:118px;top:691px;color:#000">AUDUSD,Daily</div>
<div class="a" style="left:299px;top:690px;width:1px;height:13px;background:#555"></div>
<div class="a" style="left:404px;top:690px;width:1px;height:13px;background:#555"></div>
<div class="a" style="left:507px;top:690px;width:1px;height:13px;background:#555"></div>
<div class="a" style="left:595px;top:690px;width:1px;height:13px;background:#555"></div>
<div class="a" style="left:663px;top:690px;width:1px;height:13px;background:#555"></div>
<div class="a" style="left:763px;top:690px;width:1px;height:13px;background:#555"></div>
<div class="a" style="left:855px;top:690px;width:1px;height:13px;background:#555"></div>
<div class="a" style="left:959px;top:690px;width:1px;height:13px;background:#555"></div>
<div class="a" style="left:1059px;top:690px;width:1px;height:13px;background:#555"></div>
<div class="a" style="left:1179px;top:692px;width:0;height:0;border-top:3px solid transparent;border-bottom:3px solid transparent;border-right:4px solid #888"></div>
<div class="a" style="left:1198px;top:692px;width:0;height:0;border-top:3px solid transparent;border-bottom:3px solid transparent;border-left:4px solid #888"></div>
<div class="a" style="left:5px;top:47px;width:52px;height:25px;background:linear-gradient(#f55050,#d82424);border:1px solid #b00000;border-bottom:none"></div>
<div class="a" style="left:5px;top:71px;width:109px;height:33px;background:linear-gradient(#dc2a2a,#b00606);border:1px solid #b00000;border-top:none"></div>
<div class="a" style="left:9px;top:70px;width:44px;height:1px;background:#8a0000"></div>
<div class="a" style="left:9px;top:71px;width:44px;height:1px;background:#f46a6a"></div>
<div class="a" style="left:172px;top:47px;width:52px;height:25px;background:linear-gradient(#f55050,#d82424);border:1px solid #b00000;border-bottom:none"></div>
<div class="a" style="left:116px;top:71px;width:108px;height:33px;background:linear-gradient(#dc2a2a,#b00606);border:1px solid #b00000;border-top:none"></div>
<div class="a" style="left:176px;top:70px;width:44px;height:1px;background:#8a0000"></div>
<div class="a" style="left:176px;top:71px;width:44px;height:1px;background:#f46a6a"></div>
<div class="a" style="left:5px;top:104px;width:220px;height:2px;background:#fff"></div>
<div class="a" style="left:59px;top:47px;width:112px;height:22px;background:#fff;border:1px solid #b0b0b8"></div>
<div class="a" style="left:60px;top:48px;width:21px;height:20px;background:linear-gradient(#f6f6f6 0%,#ededed 50%,#dddddd 50%,#d6d6d6 100%);border-right:1px solid #a8a8b0;box-shadow:inset 1px 1px 0 #fff"></div>
<div class="a" style="left:148px;top:48px;width:22px;height:20px;background:linear-gradient(#f6f6f6 0%,#ededed 50%,#dddddd 50%,#d6d6d6 100%);border-left:1px solid #a8a8b0;box-shadow:inset 1px 1px 0 #fff"></div>
<svg class="a" style="left:0;top:0" width="230" height="80"><polygon points="67,56 73,56 70,59.5" fill="#5060c8"/><polygon points="155.5,59.5 161.5,59.5 158.5,56" fill="#5060c8"/></svg>
<div class="a" style="left:121px;top:52px;font-size:12px;color:#000">3.00</div>
<div class="a" style="left:16px;top:53px;font-size:12.5px;color:#ffe4e4;transform:scaleX(0.93);transform-origin:0 0">SELL</div>
<div class="a" style="left:185px;top:53px;font-size:12.5px;color:#ffe4e4;transform:scaleX(0.98);transform-origin:0 0">BUY</div>
<div class="a" style="left:25px;top:89px;font-size:12px;font-weight:bold;color:#fff;transform:scaleX(1.06);transform-origin:0 0">0.73</div>
<div class="a" style="left:52.5px;top:69px;font-size:35px;color:#fff;transform:scaleX(0.9);transform-origin:0 0">29</div>
<div class="a" style="left:92px;top:72.5px;font-size:12px;font-weight:bold;color:#fff">2</div>
<div class="a" style="left:135px;top:89px;font-size:12px;font-weight:bold;color:#fff;transform:scaleX(1.06);transform-origin:0 0">0.73</div>
<div class="a" style="left:164.5px;top:69px;font-size:35px;color:#fff;transform:scaleX(0.9);transform-origin:0 0">30</div>
<div class="a" style="left:203px;top:72.5px;font-size:12px;font-weight:bold;color:#fff">6</div>
</body></html>
